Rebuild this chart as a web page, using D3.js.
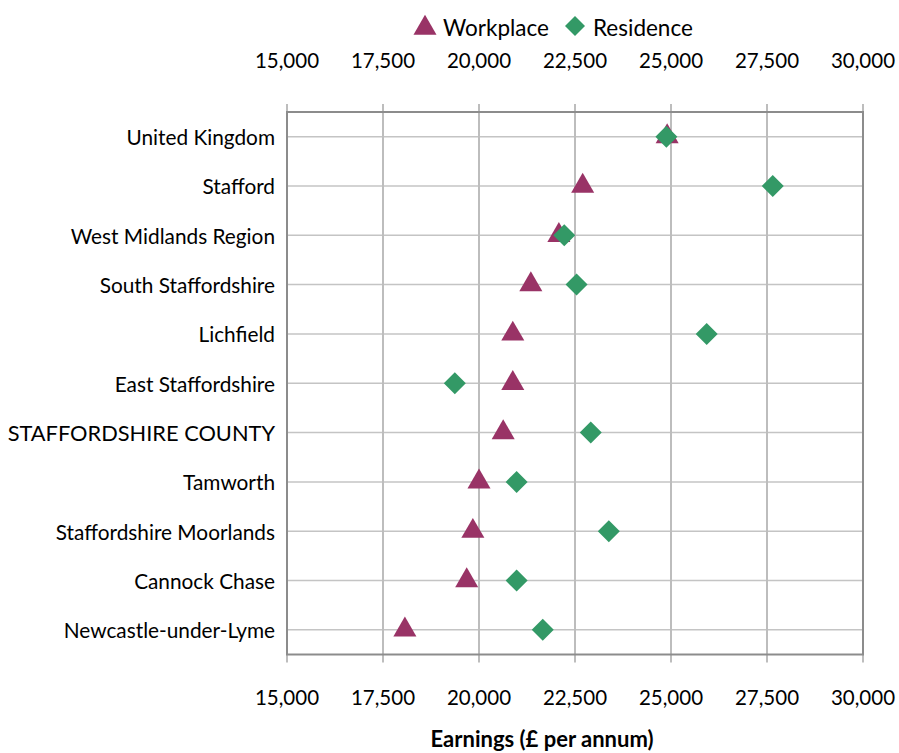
<!DOCTYPE html>
<html>
<head>
<meta charset="utf-8">
<script src="https://cdn.jsdelivr.net/npm/d3@7/dist/d3.min.js"></script>
<style>
  body { margin: 0; background: #fff; }
  svg text { font-family: Lato, "Open Sans", sans-serif; fill: #000; }
</style>
</head>
<body>
<svg id="chart" width="899" height="753"></svg>
<script>
const categories = [
  "United Kingdom", "Stafford", "West Midlands Region", "South Staffordshire",
  "Lichfield", "East Staffordshire", "STAFFORDSHIRE COUNTY", "Tamworth",
  "Staffordshire Moorlands", "Cannock Chase", "Newcastle-under-Lyme"
];
const workplace = [24900, 22700, 22080, 21350, 20880, 20880, 20630, 20000, 19840, 19680, 18070];
const residence = [24880, 27650, 22220, 22540, 25930, 19370, 22910, 20980, 23380, 20980, 21660];
const xTicks = [15000, 17500, 20000, 22500, 25000, 27500, 30000];
const seriesNames = ["Workplace", "Residence"];
const axisTitle = "Earnings (£ per annum)";

(function () {
const svg = d3.select("#chart");
const pL = 287, pR = 863, pT = 112, pB = 654.5;
const colW = "#993366", colR = "#339966";

const x = d3.scaleLinear().domain([15000, 30000]).range([pL, pR]);
const y = d3.scaleBand().domain(categories).range([pT, pB]);
const yc = c => y(c) + y.bandwidth() / 2;

svg.append("g").selectAll("line").data(categories).join("line")
  .attr("x1", pL).attr("x2", pR)
  .attr("y1", d => yc(d)).attr("y2", d => yc(d))
  .attr("stroke", "#c4c4c4").attr("stroke-width", 1.5);

svg.append("g").selectAll("line").data(xTicks).join("line")
  .attr("x1", d => x(d)).attr("x2", d => x(d))
  .attr("y1", pT - 8).attr("y2", pB + 8)
  .attr("stroke", "#bdbdbd").attr("stroke-width", 2);

svg.append("rect")
  .attr("x", pL).attr("y", pT)
  .attr("width", pR - pL).attr("height", pB - pT)
  .attr("fill", "none").attr("stroke", "#8c8c8c").attr("stroke-width", 2);

const fmt = d3.format(",");
svg.append("g").selectAll("text").data(xTicks).join("text")
  .attr("x", d => x(d)).attr("y", 60)
  .attr("text-anchor", "middle").attr("dominant-baseline", "central")
  .attr("font-size", 20.5).text(d => fmt(d));
svg.append("g").selectAll("text").data(xTicks).join("text")
  .attr("x", d => x(d)).attr("y", 697)
  .attr("text-anchor", "middle").attr("dominant-baseline", "central")
  .attr("font-size", 20.5).text(d => fmt(d));

svg.append("g").selectAll("text").data(categories).join("text")
  .attr("x", 275).attr("y", d => yc(d))
  .attr("text-anchor", "end").attr("dominant-baseline", "central")
  .attr("font-size", d => d === d.toUpperCase() ? 21.8 : 20.8).text(d => d);

svg.append("text").attr("x", 542).attr("y", 738)
  .attr("text-anchor", "middle").attr("dominant-baseline", "central")
  .attr("font-size", 22).attr("font-weight", "bold").text(axisTitle);

const tri = d3.symbol().type(d3.symbolTriangle).size(230);
const dia = (s) => `M0,${-s}L${s},0L0,${s}L${-s},0Z`;

svg.append("g").selectAll("path").data(categories).join("path")
  .attr("transform", (d, i) => `translate(${x(workplace[i])},${yc(d)})`)
  .attr("d", tri).attr("fill", colW);
svg.append("g").selectAll("path").data(categories).join("path")
  .attr("transform", (d, i) => `translate(${x(residence[i])},${yc(d)})`)
  .attr("d", dia(11)).attr("fill", colR);

const lg = svg.append("g");
lg.append("path").attr("transform", "translate(425,28)").attr("d", tri).attr("fill", colW);
lg.append("text").attr("x", 443).attr("y", 27).attr("dominant-baseline", "central")
  .attr("font-size", 22.5).text(seriesNames[0]);
lg.append("path").attr("transform", "translate(575,26)").attr("d", dia(10)).attr("fill", colR);
lg.append("text").attr("x", 593).attr("y", 27).attr("dominant-baseline", "central")
  .attr("font-size", 22.5).text(seriesNames[1]);
})();
</script>
</body>
</html>
